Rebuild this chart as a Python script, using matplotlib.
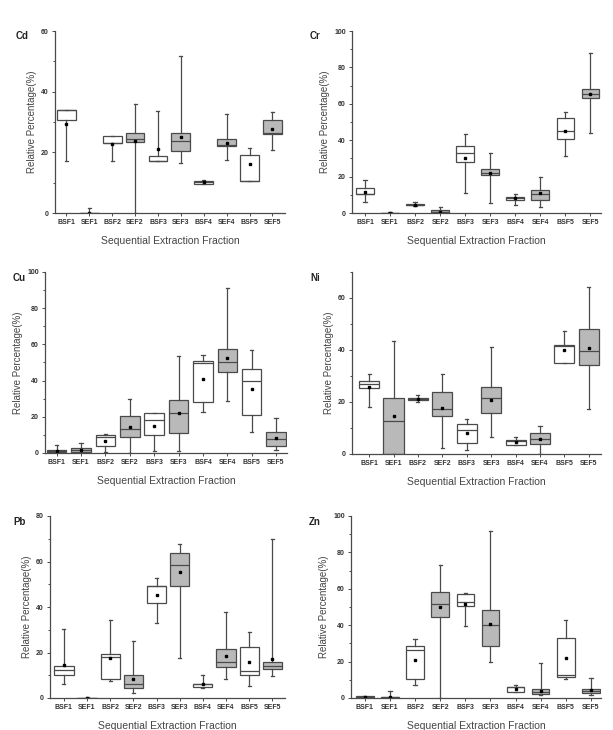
import matplotlib
matplotlib.use("Agg")
import matplotlib.pyplot as plt
from matplotlib.ticker import MultipleLocator, AutoMinorLocator

plt.rcParams['font.family'] = ['Liberation Sans', 'DejaVu Sans']

categories = ["BSF1", "SEF1", "BSF2", "SEF2", "BSF3", "SEF3", "BSF4", "SEF4", "BSF5", "SEF5"]

# per element: whisker low, Q1, median, Q3, whisker high, mean
cd_low  = [17.0, 0.0, 17.0, 0.0, 17.3, 16.4, 9.6, 17.6, 10.6, 20.7]
cd_q1   = [30.7, 0.0, 23.1, 23.3, 17.2, 20.4, 9.7, 22.0, 10.6, 26.1]
cd_med  = [33.9, 0.0, 23.2, 24.5, 17.3, 23.8, 10.2, 22.5, 10.6, 26.3]
cd_q3   = [33.9, 0.0, 25.4, 26.5, 18.9, 26.5, 10.7, 24.4, 19.1, 30.5]
cd_high = [33.9, 1.5, 25.4, 36.0, 33.7, 51.7, 10.9, 32.5, 21.5, 33.4]
cd_mean = [29.3, 0.0, 22.7, 23.9, 21.2, 24.9, 10.2, 23.1, 16.1, 27.7]

cr_low  = [6.2, 0.0, 4.0, 0.0, 11.0, 5.5, 4.6, 3.3, 31.2, 44.2]
cr_q1   = [10.3, 0.0, 4.2, 0.3, 27.9, 20.9, 7.3, 7.3, 40.6, 63.3]
cr_med  = [10.5, 0.0, 4.6, 0.6, 32.8, 22.2, 8.0, 10.5, 45.0, 65.4]
cr_q3   = [13.5, 0.1, 5.0, 1.6, 36.7, 24.3, 8.8, 12.7, 52.1, 67.9]
cr_high = [18.0, 0.3, 6.0, 3.5, 43.3, 32.7, 10.3, 20.0, 55.4, 87.7]
cr_mean = [11.6, 0.0, 4.6, 0.8, 30.3, 22.2, 8.0, 11.0, 45.0, 65.4]

cu_low  = [0.0, 0.0, 0.7, 0.0, 1.3, 1.3, 22.6, 28.8, 11.7, 1.8]
cu_q1   = [0.3, 0.3, 3.7, 8.6, 9.7, 11.0, 28.1, 44.6, 20.9, 3.9]
cu_med  = [1.0, 1.5, 8.8, 13.2, 18.3, 22.2, 49.5, 50.1, 39.6, 7.9]
cu_q3   = [1.8, 2.7, 10.1, 20.7, 22.0, 29.4, 50.8, 57.2, 46.4, 11.6]
cu_high = [4.4, 5.5, 10.5, 29.9, 22.0, 53.6, 54.1, 91.2, 56.9, 19.4]
cu_mean = [1.1, 1.9, 6.8, 14.3, 14.7, 22.3, 41.1, 52.3, 35.2, 8.4]

ni_low  = [18.1, 0.0, 20.1, 2.4, 1.5, 6.5, 3.4, 0.0, 35.0, 17.4]
ni_q1   = [25.5, 0.0, 20.7, 14.7, 4.4, 15.9, 3.5, 4.0, 35.0, 34.1]
ni_med  = [26.9, 12.6, 21.0, 17.3, 9.1, 21.4, 5.0, 5.9, 41.6, 39.6]
ni_q3   = [28.2, 21.7, 21.6, 23.8, 11.5, 25.6, 5.4, 7.9, 41.9, 48.2]
ni_high = [30.6, 43.3, 22.6, 30.6, 13.5, 41.3, 6.4, 10.8, 47.2, 64.1]
ni_mean = [25.9, 14.6, 21.2, 17.8, 8.1, 20.9, 4.6, 5.8, 40.1, 40.6]

pb_low  = [6.3, 0.0, 7.6, 2.3, 32.9, 17.8, 4.6, 8.5, 5.1, 9.8]
pb_q1   = [10.1, 0.0, 8.2, 4.3, 41.7, 49.3, 5.0, 13.5, 10.3, 12.6]
pb_med  = [12.3, 0.0, 17.9, 6.2, 49.2, 58.3, 6.0, 15.9, 11.9, 14.2]
pb_q3   = [13.9, 0.0, 19.5, 10.0, 49.3, 63.6, 6.3, 21.7, 22.5, 15.9]
pb_high = [30.5, 0.5, 34.3, 25.1, 52.8, 67.7, 10.3, 37.9, 28.9, 69.9]
pb_mean = [14.7, 0.0, 17.5, 8.5, 45.1, 55.3, 6.3, 18.3, 15.7, 17.3]

zn_low  = [0.0, 0.0, 7.2, 0.0, 39.6, 19.6, 3.5, 1.4, 10.3, 1.8]
zn_q1   = [0.3, 0.1, 10.3, 44.6, 50.3, 28.6, 3.5, 2.2, 11.4, 2.9]
zn_med  = [0.6, 0.4, 26.6, 51.7, 52.7, 40.2, 6.0, 3.5, 12.7, 3.6]
zn_q3   = [1.0, 0.8, 28.3, 58.3, 57.1, 48.6, 6.1, 4.8, 33.0, 5.1]
zn_high = [1.2, 3.7, 32.5, 73.2, 57.6, 91.9, 7.2, 19.1, 43.1, 11.0]
zn_mean = [0.5, 0.5, 20.9, 50.1, 51.6, 40.7, 4.8, 3.9, 22.2, 4.4]

elements = ["Cd", "Cr", "Cu", "Ni", "Pb", "Zn"]
data = {
    "Cd": (cd_low, cd_q1, cd_med, cd_q3, cd_high, cd_mean),
    "Cr": (cr_low, cr_q1, cr_med, cr_q3, cr_high, cr_mean),
    "Cu": (cu_low, cu_q1, cu_med, cu_q3, cu_high, cu_mean),
    "Ni": (ni_low, ni_q1, ni_med, ni_q3, ni_high, ni_mean),
    "Pb": (pb_low, pb_q1, pb_med, pb_q3, pb_high, pb_mean),
    "Zn": (zn_low, zn_q1, zn_med, zn_q3, zn_high, zn_mean),
}
ylims = {"Cd": (60, 20), "Cr": (100, 20), "Cu": (100, 20), "Ni": (70, 20), "Pb": (80, 20), "Zn": (100, 20)}

W, H = 613, 730
# axes rectangles in pixels: left, right, top, bottom
rects = {
    "Cd": (55, 285, 31, 213),
    "Cr": (352, 601, 31, 213),
    "Cu": (45, 287, 272, 453),
    "Ni": (352, 601, 272, 454),
    "Pb": (50, 285, 516, 698),
    "Zn": (351, 601, 516, 698),
}
xlims = {
    "Cd": (0.5, 10.55), "Cr": (0.48, 10.42), "Cu": (0.52, 10.45),
    "Ni": (0.3, 10.5), "Pb": (0.4, 10.55), "Zn": (0.45, 10.4),
}
box_w = {"Cd": 0.82, "Cr": 0.71, "Cu": 0.8, "Ni": 0.82, "Pb": 0.83, "Zn": 0.7}
letter_pos = {"Cd": (16, 36), "Cr": (310, 36), "Cu": (13, 278), "Ni": (310, 278),
              "Pb": (13, 522), "Zn": (309, 522)}

fig = plt.figure(figsize=(W / 100, H / 100), dpi=100)
line_c = "#4a4a4a"
gray_fill = "#b9b9b9"

for el in elements:
    l, r, t, b = rects[el]
    ax = fig.add_axes([l / W, 1 - b / H, (r - l) / W, (b - t) / H])
    low, q1, med, q3, high, mean = data[el]
    stats = []
    for i in range(len(categories)):
        stats.append(dict(whislo=low[i], q1=q1[i], med=med[i], q3=q3[i],
                          whishi=high[i], mean=mean[i], fliers=[], label=categories[i]))
    pos = list(range(1, len(categories) + 1))
    bp = ax.bxp(stats, positions=pos, widths=box_w[el], showmeans=True, patch_artist=True,
                capwidths=0.13,
                boxprops=dict(edgecolor=line_c, linewidth=0.9),
                whiskerprops=dict(color=line_c, linewidth=0.9),
                capprops=dict(color=line_c, linewidth=0.9),
                medianprops=dict(color=line_c, linewidth=0.9),
                meanprops=dict(marker="s", markersize=1.6, markerfacecolor="black",
                               markeredgecolor="black"))
    for i, box in enumerate(bp["boxes"]):
        box.set_facecolor("white" if categories[i].startswith("BSF") else gray_fill)
    ymax, step = ylims[el]
    ax.set_ylim(0, ymax)
    ax.set_xlim(*xlims[el])
    ax.yaxis.set_major_locator(MultipleLocator(step))
    ax.yaxis.set_minor_locator(AutoMinorLocator(2))
    ax.set_xticks(pos)
    ax.set_xticklabels(categories, fontsize=5, fontweight="bold", color="#333333")
    for lab in ax.get_yticklabels():
        lab.set_fontsize(5)
        lab.set_fontweight("bold")
        lab.set_color("#333333")
    ax.tick_params(axis="both", direction="out", length=2.5, width=0.7, color=line_c, pad=2)
    ax.tick_params(axis="y", which="minor", direction="out", length=1.5, width=0.7, color=line_c)
    for s in ["top", "right"]:
        ax.spines[s].set_visible(False)
    for s in ["left", "bottom"]:
        ax.spines[s].set_color(line_c)
        ax.spines[s].set_linewidth(0.9)
    ax.set_ylabel("Relative Percentage(%)", fontsize=7, color="#444444", labelpad=3)
    ax.set_xlabel("Sequential Extraction Fraction", fontsize=7.5, color="#444444", labelpad=7)
    px, py = letter_pos[el]
    fig.text(px / W, 1 - py / H, el, fontsize=7, fontweight="bold",
             ha="left", va="center", color="#222222")

fig.savefig("out.png", dpi=100, facecolor="white")
